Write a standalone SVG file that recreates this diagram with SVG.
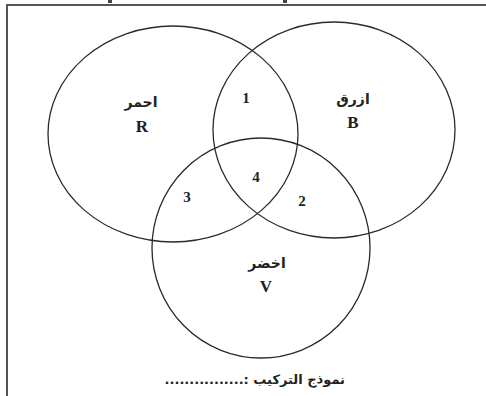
<svg xmlns="http://www.w3.org/2000/svg" width="486" height="396" viewBox="0 0 486 396">
  <style>
    .set { fill: none; stroke: #2a2a2a; stroke-width: 1.3; }
    .frame { stroke: #555; stroke-width: 2; fill: none; }
    .ar { font-family: "DejaVu Sans", "Noto Sans", sans-serif; font-size: 14px; font-weight: bold; fill: #222; text-anchor: middle; }
    .lat { font-family: "Liberation Serif", "Times New Roman", serif; font-weight: bold; font-size: 17px; fill: #222; text-anchor: middle; }
    .num { font-family: "Liberation Serif", "Times New Roman", serif; font-weight: bold; font-size: 15px; fill: #222; text-anchor: middle; }
    .foot { font-family: "DejaVu Sans", "Noto Sans", sans-serif; font-size: 13px; font-weight: bold; fill: #222; }
  </style>
  <rect width="486" height="396" fill="#ffffff"/>
  <g id="frame">
    <path class="frame" d="M7 396 V5 H486"/>
    <rect x="108" y="0" width="4" height="3" fill="#444"/>
    <rect x="283" y="0" width="4" height="3" fill="#444"/>
  </g>
  <g id="set-R">
    <ellipse class="set" cx="173" cy="134" rx="125" ry="108"/>
    <text class="ar" x="141" y="107" direction="rtl">احمر</text>
    <text class="lat" x="142" y="132">R</text>
  </g>
  <g id="set-B">
    <ellipse class="set" cx="334" cy="130" rx="121" ry="108"/>
    <text class="ar" x="353" y="104" direction="rtl">ازرق</text>
    <text class="lat" x="353" y="128">B</text>
  </g>
  <g id="set-V">
    <ellipse class="set" cx="261" cy="248" rx="109" ry="110"/>
    <text class="ar" x="267" y="268" direction="rtl">اخضر</text>
    <text class="lat" x="266" y="292">V</text>
  </g>
  <g id="regions">
    <text class="num" x="246" y="103">1</text>
    <text class="num" x="302" y="206">2</text>
    <text class="num" x="187" y="202">3</text>
    <text class="num" x="256" y="182">4</text>
  </g>
  <g id="connectors"></g>
  <g id="footer">
    <text class="foot" x="345" y="384" direction="rtl" unicode-bidi="embed">نموذج التركيب :................</text>
  </g>
</svg>
